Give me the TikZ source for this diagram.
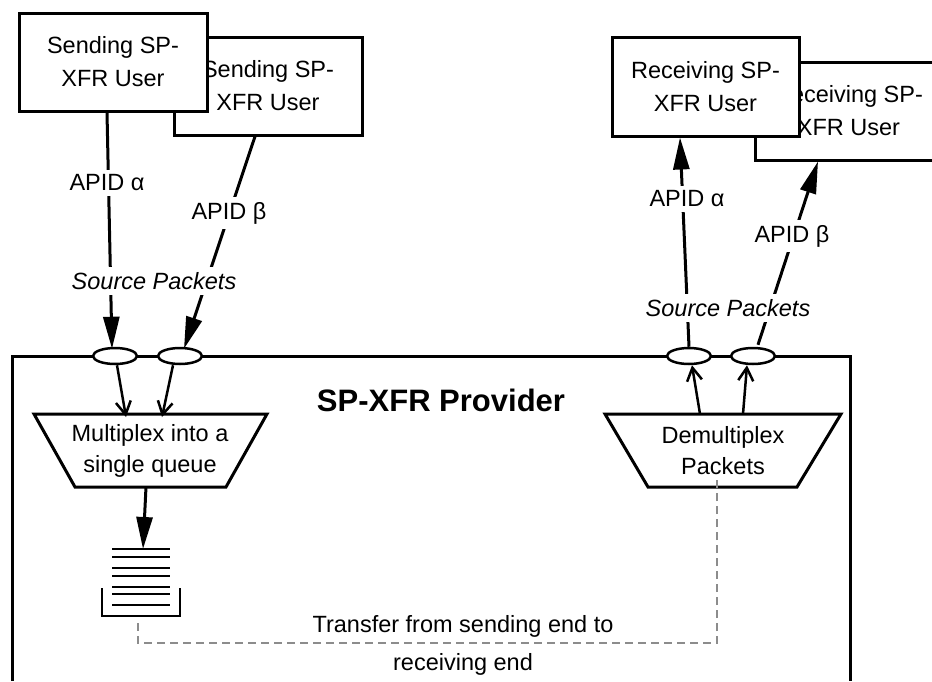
\documentclass[tikz,border=0pt]{standalone}
\usepackage{fontspec}
\setmainfont{Liberation Sans}
\usetikzlibrary{arrows.meta,shapes.geometric}
\begin{document}
\begin{tikzpicture}[x=1pt,y=-1pt,
  userbox/.style={draw,fill=white,line width=3pt,minimum width=188pt,minimum height=98pt,inner sep=0pt,align=center,font=\fontsize{23.5}{33}\selectfont},
  port/.style={draw,fill=white,ellipse,line width=2.5pt,minimum width=44pt,minimum height=16pt,inner sep=0pt},
  bigarrow/.style={line width=3pt,-{Triangle[length=32pt,width=16pt]}},
  smallarrow/.style={line width=2.5pt,-{Straight Barb[length=13pt,width=15pt]}},
  lbl/.style={fill=white,inner sep=5pt,font=\fontsize{23.5}{28}\selectfont},
  trap/.style={draw,fill=white,line width=3pt,line join=miter},
  traptext/.style={align=center,inner sep=0pt,font=\fontsize{23.5}{31}\selectfont},
  wire/.style={line width=3pt},
  qline/.style={line width=2.5pt},
  transfer/.style={draw=gray!90,line width=2pt,dash pattern=on 8pt off 5pt},
]
\useasboundingbox (0,0) rectangle (932,681);
\clip (0,0) rectangle (932,681);

% provider box
\draw[wire] (12,681) -- (12,356) -- (850,356) -- (850,681);
\node[font=\fontsize{31}{36}\selectfont\bfseries] (title) at (441,400) {SP-XFR Provider};

% user boxes
\node[userbox] (sb2) at (268,86) {Sending SP-\\XFR User};
\node[userbox] (sb1) at (113,62) {Sending SP-\\XFR User};
\node[userbox,minimum width=187pt] (rb2) at (848.5,111) {Receiving SP-\\XFR User};
\node[userbox,minimum width=187pt,minimum height=99pt] (rb1) at (705.5,86.5) {Receiving SP-\\XFR User};

% multiplexer / demultiplexer
\coordinate (muxT) at (150,414);
\coordinate (muxB) at (150,487);
\draw[trap] (34,414) -- (267,414) -- (226,487) -- (75,487) -- cycle;
\node[traptext] (mux) at (150,451) {Multiplex into a\\single queue};
\coordinate (demuxT) at (723,414);
\coordinate (demuxB) at (722.5,487);
\draw[trap] (605,414) -- (841,414) -- (797,487) -- (648,487) -- cycle;
\node[traptext] (demux) at (723,451) {Demultiplex\\Packets};

% ports
\node[port] (e1) at (115,356) {};
\node[port] (e2) at (180,356) {};
\node[port] (e3) at (689,356) {};
\node[port] (e4) at (753,356) {};

% queue
\coordinate (qT) at (143,549);
\coordinate (qB) at (138,623);
\foreach \y in {549,557,568,576,587,594,605}
  \draw[qline] (112,\y) -- (170,\y);
\draw[qline] (102,588) -- (102,616) -- (180,616) -- (180,588);

% sending side arrows
\draw[bigarrow] ([xshift=-6pt]sb1.south) -- ([xshift=-3pt,yshift=-2pt]e1.north);
\draw[bigarrow] ([xshift=-13pt]sb2.south) -- ([xshift=4pt,yshift=-2pt]e2.north);
\draw[smallarrow] ([xshift=2pt]e1.south) -- ([xshift=-24pt,yshift=-3pt]muxT);
\draw[smallarrow] ([xshift=-7pt]e2.south) -- ([xshift=12pt,yshift=-3pt]muxT);
\draw[bigarrow] ([xshift=-4pt]muxB) -- (qT);

% receiving side arrows
\draw[smallarrow] ([xshift=-23pt]demuxT) -- ([xshift=3pt]e3.south);
\draw[smallarrow] ([xshift=20pt]demuxT) -- ([xshift=-6pt]e4.south);
\draw[bigarrow] (e3.north) -- ([xshift=-25.5pt]rb1.south);
\draw[bigarrow] ([xshift=5pt,yshift=2pt]e4.north) -- ([xshift=-30.5pt]rb2.south);

% transfer path
\draw[transfer] (qB) -- (138,643) -- (717,643) -- ([xshift=-5.5pt,yshift=8pt]demuxB);
\node[font=\fontsize{23.5}{38}\selectfont,align=center,inner sep=0pt] (xfer) at (463,645) {Transfer from sending end to\\receiving end};

% labels
\node[lbl] (la) at (107,183) {APID α};
\node[lbl] (lb) at (229,213) {APID β};
\node[lbl,font=\fontsize{23.5}{28}\selectfont\itshape] (lsp) at (154,281) {Source Packets};
\node[lbl] (ra) at (687,199) {APID α};
\node[lbl] (rbl) at (792,236) {APID β};
\node[lbl,font=\fontsize{23.5}{28}\selectfont\itshape] (rsp) at (728,308) {Source Packets};
\end{tikzpicture}
\end{document}
